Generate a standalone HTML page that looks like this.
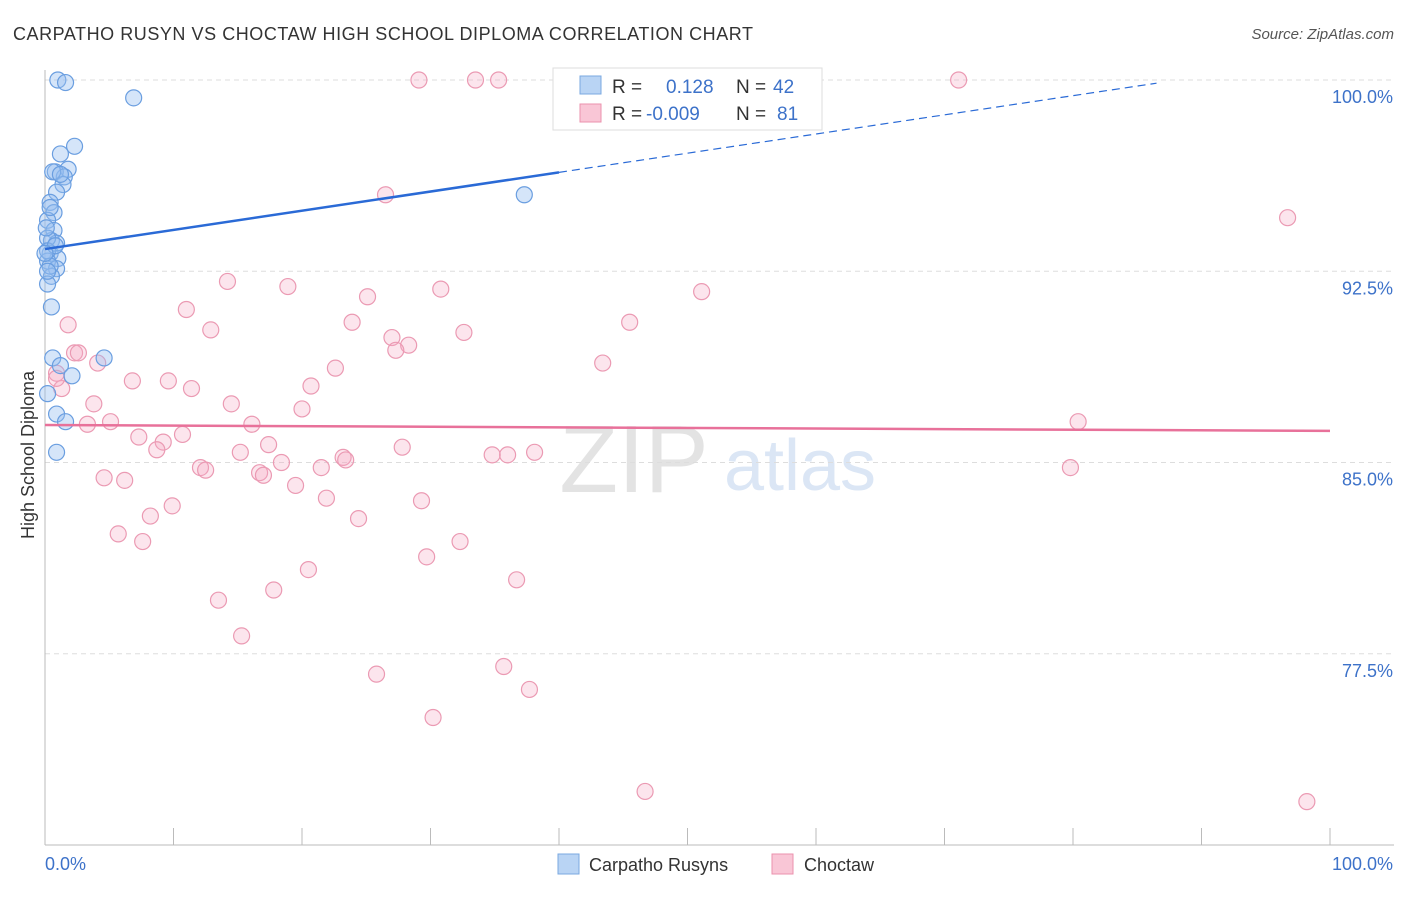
<!DOCTYPE html>
<html><head><meta charset="utf-8"><style>
body{margin:0;background:#fff;font-family:"Liberation Sans",sans-serif;}
svg text{font-family:"Liberation Sans",sans-serif;}
</style></head><body>
<svg id="c" width="1406" height="892">
<text x="13" y="40" font-size="18" fill="#333" textLength="740">CARPATHO RUSYN VS CHOCTAW HIGH SCHOOL DIPLOMA CORRELATION CHART</text>
<text x="1394" y="39" font-size="15" fill="#555" font-style="italic" text-anchor="end">Source: ZipAtlas.com</text>
<text x="634" y="492" font-size="96" fill="#e3e3e3" font-family="Liberation Serif" text-anchor="middle">ZIP</text>
<text x="800" y="490" font-size="72" fill="#dbe6f5" text-anchor="middle">atlas</text>
<text transform="translate(34,455) rotate(-90)" font-size="18" fill="#333" text-anchor="middle">High School Diploma</text>
<g id="grid"></g><g id="pts"></g><g id="lines"></g>
<g>
<rect x="553" y="68" width="269" height="62" fill="#fff" stroke="#ddd"/>
<rect x="580" y="76" width="21" height="18" fill="#b9d4f4" stroke="#7aa8e0"/>
<rect x="580" y="104" width="21" height="18" fill="#f9c6d6" stroke="#eb92ad"/>
<text x="612" y="93" font-size="19" fill="#333">R = </text><text x="666" y="93" font-size="19" fill="#3d72c9">0.128</text>
<text x="736" y="93" font-size="19" fill="#333">N = </text><text x="773" y="93" font-size="19" fill="#3d72c9">42</text>
<text x="612" y="120" font-size="19" fill="#333">R = </text><text x="646" y="120" font-size="19" fill="#3d72c9">-0.009</text>
<text x="736" y="120" font-size="19" fill="#333">N = </text><text x="777" y="120" font-size="19" fill="#3d72c9">81</text>
</g>
<g>
<rect x="558" y="854" width="21" height="20" fill="#b9d4f4" stroke="#7aa8e0"/>
<text x="589" y="871" font-size="18" fill="#333">Carpatho Rusyns</text>
<rect x="772" y="854" width="21" height="20" fill="#f9c6d6" stroke="#eb92ad"/>
<text x="804" y="871" font-size="18" fill="#333">Choctaw</text>
</g>
</svg>
<script>
const yTicks=[100,92.5,85,77.5];
const yTickLabels=["100.0%","92.5%","85.0%","77.5%"];
const xLabels=["0.0%","100.0%"];
const blueX=[1.0,1.6,6.9,2.3,1.2,1.8,0.8,1.5,1.4,0.9,0.4,0.7,0.2,0.7,0.5,0.9,0.2,0.4,1.0,0.2,0.9,0.5,0.2,0.5,0.6,1.2,2.1,4.6,0.2,0.9,1.6,0.9,37.3,0.2,0.4,0.1,0.6,1.2,0.4,0.2,0.8,0.0];
const blueY=[100,99.9,99.3,97.4,97.1,96.5,96.4,96.2,95.9,95.6,95.2,94.8,94.5,94.1,93.7,93.6,93.8,93.2,93.0,92.9,92.6,92.3,92.0,91.1,89.1,88.8,88.4,89.1,87.7,86.9,86.6,85.4,95.5,93.3,92.7,94.2,96.4,96.3,95.0,92.5,93.5,93.2];
const pinkX=[29.1,33.5,35.3,71.1,96.7,26.5,14.2,18.9,25.1,30.8,51.1,11.0,1.8,12.9,23.9,32.6,45.5,27.0,28.3,27.3,2.3,2.6,4.1,43.4,22.6,0.9,6.8,9.6,20.7,11.4,1.3,3.8,14.5,20.0,3.3,5.1,16.1,80.4,7.3,10.7,9.2,8.7,17.4,15.2,27.8,38.1,36.0,34.8,23.2,23.4,18.4,12.1,12.5,21.5,16.7,17.0,4.6,6.2,19.5,79.8,21.9,29.3,9.9,8.2,24.4,5.7,7.6,32.3,29.7,20.5,36.7,17.8,13.5,15.3,25.8,35.7,37.7,30.2,46.7,98.2,0.9];
const pinkY=[100,100,100,100,94.6,95.5,92.1,91.9,91.5,91.8,91.7,91.0,90.4,90.2,90.5,90.1,90.5,89.9,89.6,89.4,89.3,89.3,88.9,88.9,88.7,88.5,88.2,88.2,88.0,87.9,87.9,87.3,87.3,87.1,86.5,86.6,86.5,86.6,86.0,86.1,85.8,85.5,85.7,85.4,85.6,85.4,85.3,85.3,85.2,85.1,85.0,84.8,84.7,84.8,84.6,84.5,84.4,84.3,84.1,84.8,83.6,83.5,83.3,82.9,82.8,82.2,81.9,81.9,81.3,80.8,80.4,80.0,79.6,78.2,76.7,77.0,76.1,75.0,72.1,71.7,88.3];
const X=v=>45+v*12.85, Y=v=>80+(100-v)*25.5;
const NS="http://www.w3.org/2000/svg";
function mk(t,a,p){const e=document.createElementNS(NS,t);for(const k in a)e.setAttribute(k,a[k]);p.appendChild(e);return e;}
const g=document.getElementById('grid');
yTicks.forEach((t,i)=>{
 const l=mk('line',{x1:45,x2:1394,y1:Y(t),y2:Y(t),stroke:'#ddd','stroke-dasharray':'5,4'},g);
 
 
 const tx=mk('text',{x:1393,y:Y(t)+23,'font-size':18,fill:'#3d72c9','text-anchor':'end'},g);tx.textContent=yTickLabels[i];
 
 
});
mk('line',{x1:45,x2:45,y1:70,y2:845,stroke:'#bbb'},g);
mk('line',{x1:45,x2:1394,y1:845,y2:845,stroke:'#bbb'},g);
for(let i=0;i<=10;i++){const t=mk('line',{x1:X(i*10),x2:X(i*10),y1:828,y2:845,stroke:'#bbb'},g);
 
 }
const x0=mk('text',{x:45,y:870,'font-size':18,fill:'#3d72c9'},g);x0.textContent=xLabels[0];
const x1=mk('text',{x:1393,y:870,'font-size':18,fill:'#3d72c9','text-anchor':'end'},g);x1.textContent=xLabels[1];
const p=document.getElementById('pts');
pinkX.forEach((v,i)=>{const c=mk('circle',{cx:X(v),cy:Y(pinkY[i]),r:8,fill:'rgba(246,170,195,0.3)',stroke:'#eb9ab3','stroke-width':1.2},p);
 
 });
blueX.forEach((v,i)=>{const c=mk('circle',{cx:X(v),cy:Y(blueY[i]),r:8,fill:'rgba(150,190,240,0.4)',stroke:'#6a9ee0','stroke-width':1.2},p);
 
 });
const L=document.getElementById('lines');
const b0=93.37,b1=0.0752;
const bl=mk('line',{x1:X(0),y1:Y(b0),x2:X(40),y2:Y(b0+b1*40),stroke:'#2a6ad6','stroke-width':2.5},L);


const bd=mk('line',{x1:X(40),y1:Y(b0+b1*40),x2:X(86.5),y2:Y(b0+b1*86.5),stroke:'#2a6ad6','stroke-width':1.2,'stroke-dasharray':'8,5'},L);


const pl=mk('line',{x1:X(0),y1:Y(86.47),x2:X(100),y2:Y(86.24),stroke:'#e8719a','stroke-width':2.5},L);


</script>
</body></html>
